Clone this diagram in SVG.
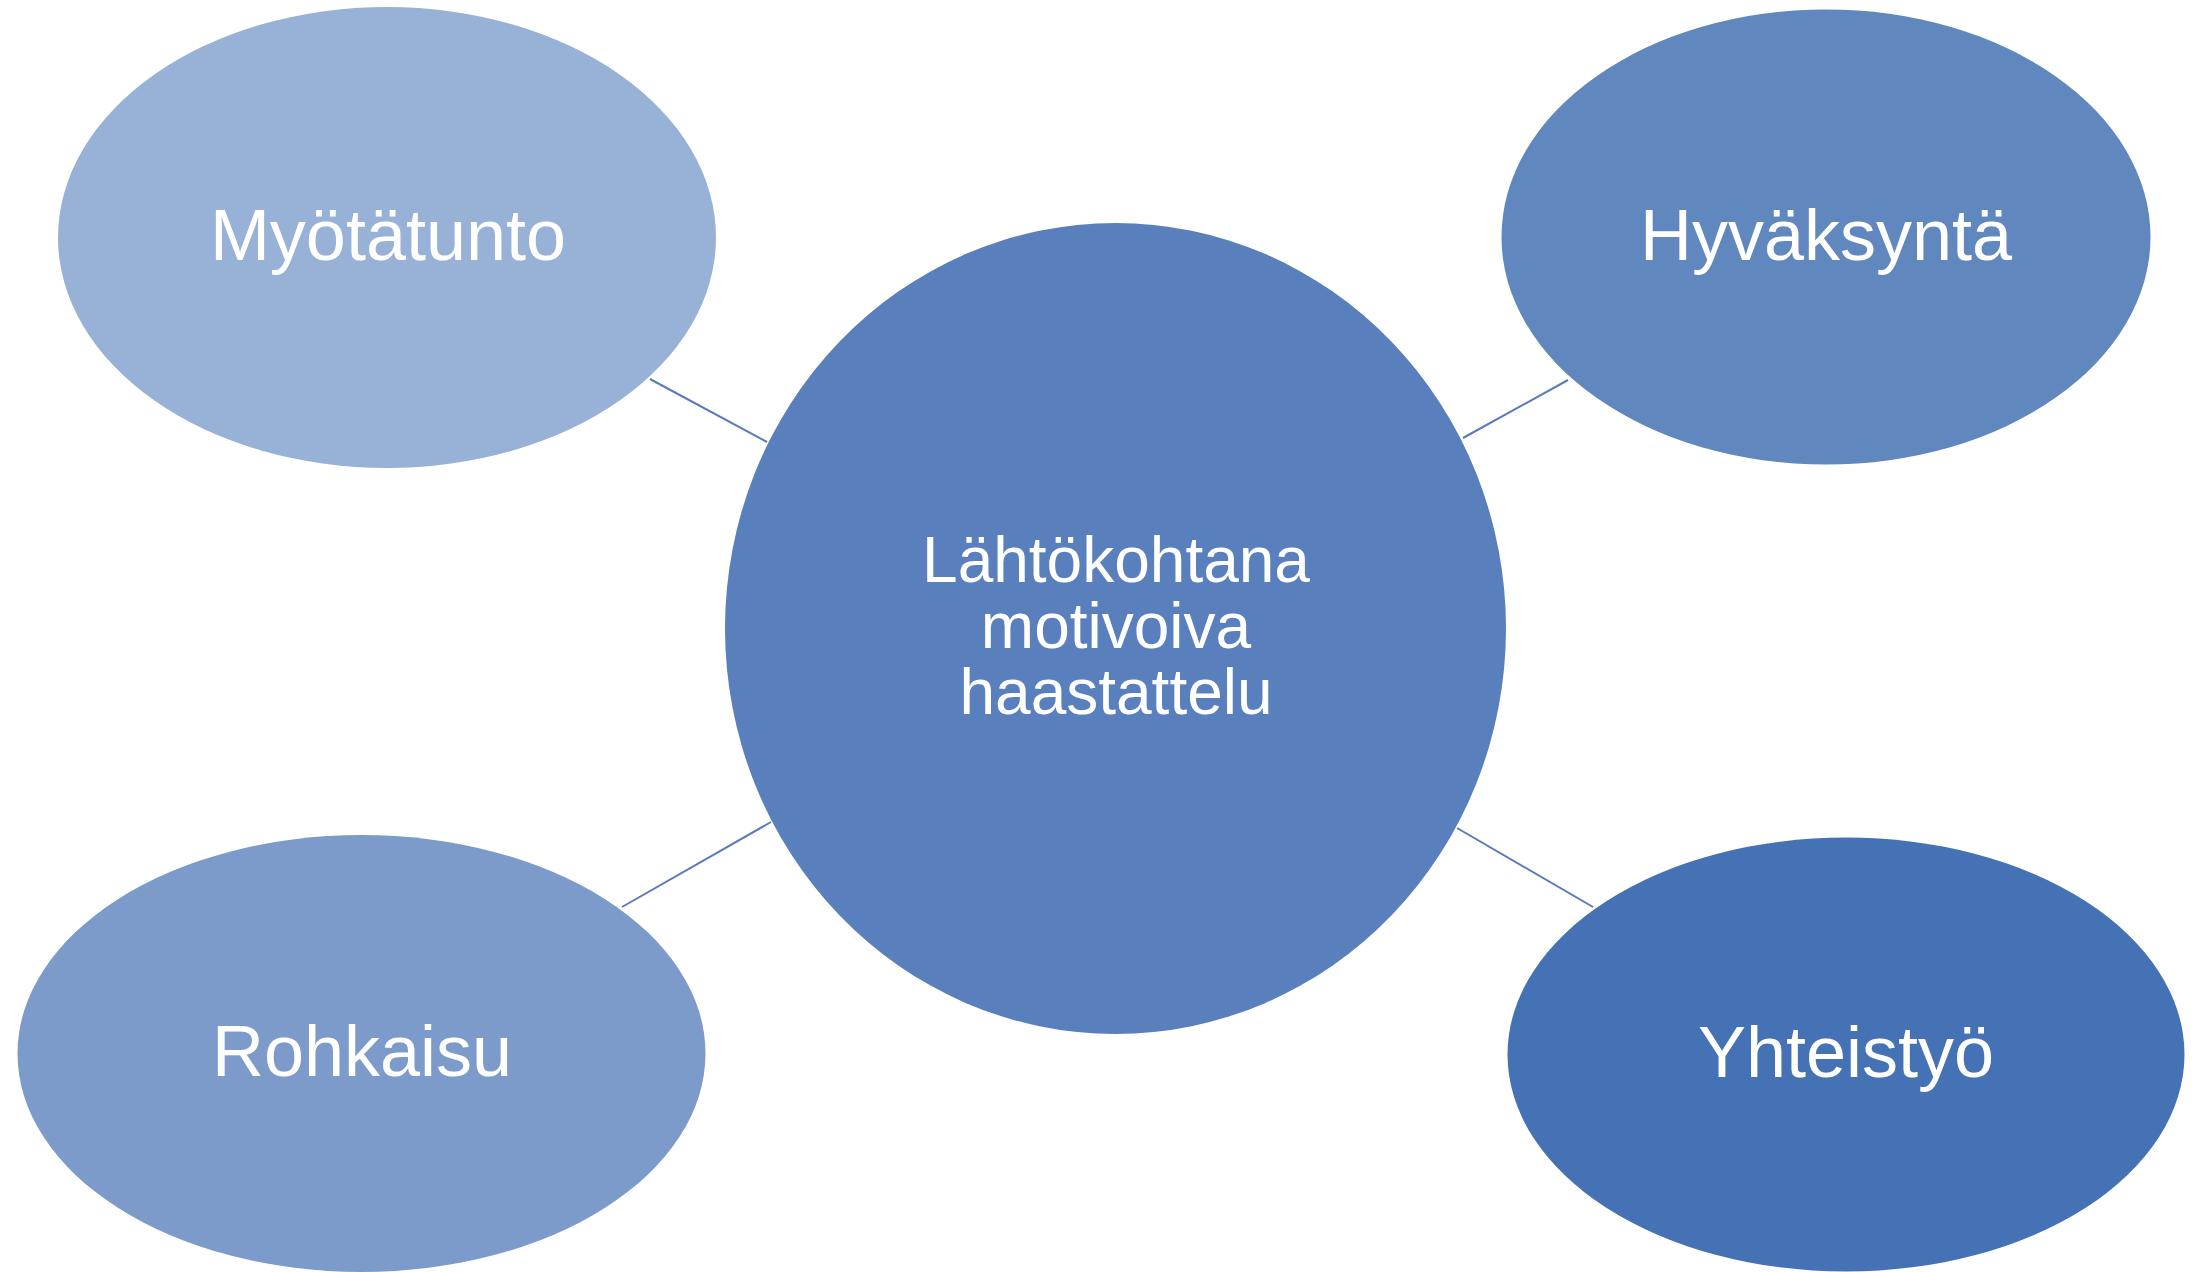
<svg xmlns="http://www.w3.org/2000/svg" width="2203" height="1272" viewBox="0 0 2203 1272">
<style>
.lbl{font-family:"Liberation Sans",Arial,sans-serif;fill:#FFFFFF;text-anchor:middle}
.side{font-size:72px}
.ctr{font-size:64px}
.conn line{stroke:#5A7BB8;stroke-width:2}
</style>
<rect width="2203" height="1272" fill="#FFFFFF"/>
<g id="connectors" class="conn">
<line x1="650" y1="379" x2="767" y2="442"/>
<line x1="1463" y1="438" x2="1568" y2="380"/>
<line x1="622" y1="907" x2="771" y2="822"/>
<line x1="1457" y1="828" x2="1593" y2="907"/>
</g>
<g id="node-center">
<ellipse cx="1115.5" cy="628.5" rx="390.5" ry="405.5" fill="#5980BC"/>
<text class="lbl ctr" x="1116" y="582">Lähtökohtana</text>
<text class="lbl ctr" x="1116" y="648">motivoiva</text>
<text class="lbl ctr" x="1116" y="714">haastattelu</text>
</g>
<g id="node-myotatunto">
<ellipse cx="387" cy="237.5" rx="329" ry="230.5" fill="#98B1D6"/>
<text class="lbl side" x="388" y="260">Myötätunto</text>
</g>
<g id="node-hyvaksynta">
<ellipse cx="1826" cy="237" rx="324.5" ry="227.5" fill="#6087BE"/>
<text class="lbl side" x="1826" y="260">Hyväksyntä</text>
</g>
<g id="node-rohkaisu">
<ellipse cx="361.5" cy="1053.5" rx="344" ry="218.5" fill="#7C9BCA"/>
<text class="lbl side" x="362" y="1076">Rohkaisu</text>
</g>
<g id="node-yhteistyo">
<ellipse cx="1846" cy="1054.5" rx="338.5" ry="217" fill="#4572B4"/>
<text class="lbl side" x="1846" y="1077">Yhteistyö</text>
</g>
</svg>
